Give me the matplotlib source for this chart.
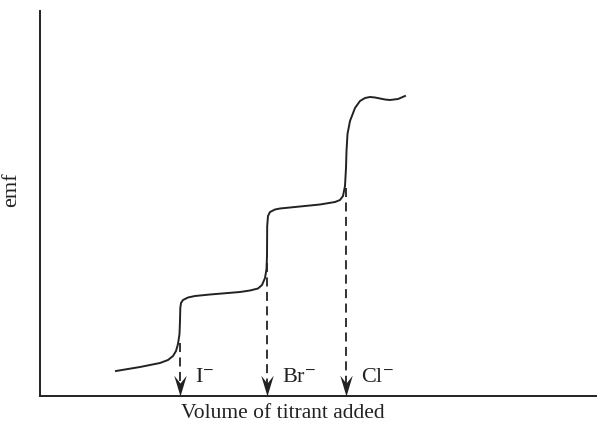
import matplotlib.pyplot as plt
from matplotlib.path import Path

plt.rcParams['font.family'] = ['Liberation Serif', 'DejaVu Serif']
plt.rcParams['mathtext.fontset'] = 'stix'

# curva de valoracion (volumen, emf)
vol = [76, 100, 120, 128, 133, 136, 138, 139.5, 140, 140.3, 141, 143, 148, 155, 170, 200, 210, 218, 222, 225,
       226.5, 227, 227.2, 228, 230, 235, 240, 260, 280, 295, 300, 303, 305, 306, 306.5, 307.5, 310, 315, 320,
       325, 330, 335, 340, 345, 350, 358, 365]
emf = [25, 29, 33, 36, 40, 45, 52, 62, 75, 88, 93, 96, 98.5, 100, 101.5, 104, 105.5, 107.5, 111, 118,
       127, 140, 170, 180, 184, 186.5, 187.5, 189.5, 191.5, 194, 196, 200, 210, 228, 245, 262, 275, 288, 295,
       298, 299, 298.5, 297.5, 296.5, 296, 297, 300]

# puntos de equivalencia
iones = ['I$^{-}$', 'Br$^{-}$', 'Cl$^{-}$']
x_eq = [140, 227, 306]
y_eq = [53, 133, 208]

# punta de flecha tipo "stealth" apuntando hacia abajo (la punta queda en el origen)
punta = Path([(0, 0), (-0.3, 1), (0, 0.62), (0.3, 1), (0, 0)],
             [Path.MOVETO, Path.LINETO, Path.LINETO, Path.LINETO, Path.CLOSEPOLY])

fig = plt.figure(figsize=(5.97, 4.25), dpi=100)
ax = fig.add_axes([40 / 597, 29 / 425, 557 / 597, 385 / 425])

ax.plot(vol, emf, color='#222222', lw=1.4)

for x, y, nombre in zip(x_eq, y_eq, iones):
    ax.plot([x, x], [y, 10], color='#222222', lw=1.3, ls=(0, (5, 3)))
    ax.plot([x], [0.5], marker=punta, markersize=30, color='#222222', mew=0, clip_on=False)
    ax.text(x + 15, 14, nombre, fontsize=16, va='baseline', ha='left', color='#222222')

ax.set_xlim(0, 557)
ax.set_ylim(0, 385)
ax.set_xticks([])
ax.set_yticks([])
for s in ['top', 'right']:
    ax.spines[s].set_visible(False)
for s in ['left', 'bottom']:
    ax.spines[s].set_linewidth(1.4)
    ax.spines[s].set_color('#222222')

fig.text(283 / 597, 1 - 413 / 425, 'Volume of titrant added', fontsize=15.5, color='#222222',
         ha='center', va='center')
fig.text(12 / 597, 1 - 190 / 425, 'emf', fontsize=16, color='#222222',
         ha='center', va='center', rotation=90)

plt.savefig('out.png', dpi=100)
plt.close()
